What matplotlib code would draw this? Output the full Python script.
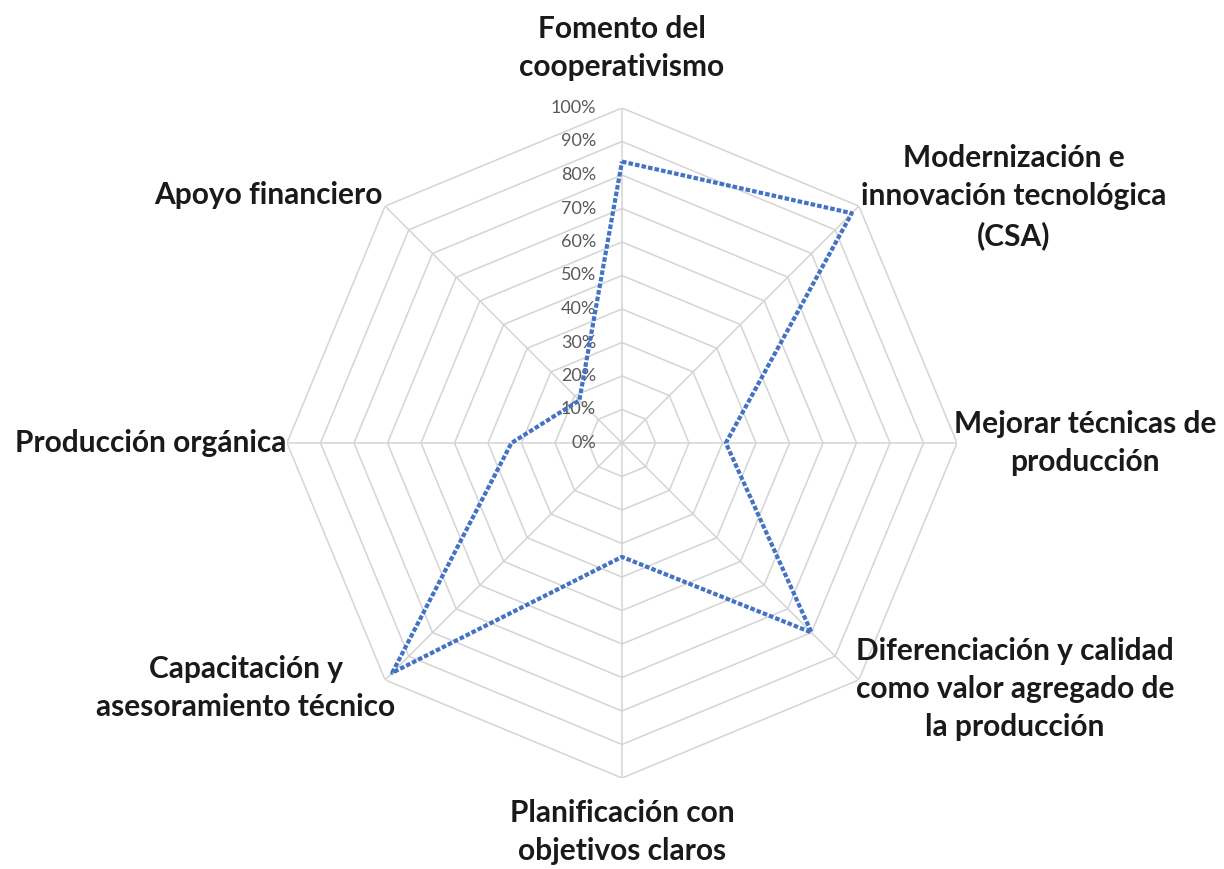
import numpy as np
import matplotlib
matplotlib.use("Agg")
import matplotlib.pyplot as plt
from matplotlib import transforms

categories = [
    "Fomento del\ncooperativismo",
    "Modernización e\ninnovación tecnológica\n(CSA)",
    "Mejorar técnicas de\nproducción",
    "Diferenciación y calidad\ncomo valor agregado de\nla producción",
    "Planificación con\nobjetivos claros",
    "Capacitación y\nasesoramiento técnico",
    "Producción orgánica",
    "Apoyo financiero",
]
values = [0.84, 0.97, 0.31, 0.80, 0.34, 0.97, 0.33, 0.18]
ticks = [0.0, 0.1, 0.2, 0.3, 0.4, 0.5, 0.6, 0.7, 0.8, 0.9, 1.0]
tick_labels = ["0%", "10%", "20%", "30%", "40%", "50%", "60%", "70%", "80%", "90%", "100%"]

# label placement in pixels (center x, center y from top)
label_pos = [
    (622, 48),
    (1014, 197),
    (1085, 443),
    (1015, 689),
    (622, 832),
    (246, 688),
    (151, 443),
    (268, 195),
]

W, H = 1224, 869
fig = plt.figure(figsize=(W / 100, H / 100), dpi=100)
cx, cy, R = 622, 443, 335
ax = fig.add_axes([(cx - R) / W, (H - cy - R) / H, 2 * R / W, 2 * R / H], projection="polar")
ax.set_theta_offset(np.pi / 2)
ax.set_theta_direction(-1)
ax.set_ylim(0, 1)
ax.grid(False)
ax.spines["polar"].set_visible(False)
ax.set_xticks([])
ax.set_yticks([])
ax.patch.set_alpha(0)

n = len(categories)
angles = np.linspace(0, 2 * np.pi, n, endpoint=False)
closed = np.concatenate([angles, angles[:1]])

grid_col = "#d4d4d4"
for r in ticks[1:]:
    ax.plot(closed, [r] * (n + 1), color=grid_col, lw=1.1, zorder=1)
for a in angles:
    ax.plot([a, a], [0, 1], color=grid_col, lw=1.1, zorder=1)

vals = values + values[:1]
ax.plot(closed, vals, color="#4472c4", lw=3.0, linestyle=(0, (1.1, 0.5)), zorder=3)

off = transforms.offset_copy(ax.transData, fig=fig, x=-26, y=0, units="dots")
for t, lab in zip(ticks, tick_labels):
    ax.text(0, t, lab, transform=off, ha="right", va="center",
            fontsize=13, color="#595959", family="Lato", zorder=2)

for lab, (px, py) in zip(categories, label_pos):
    fig.text(px / W, 1 - py / H, lab, ha="center", va="center", multialignment="center",
             fontsize=21.5, fontweight="bold", family="Lato", color="#1a1a1a",
             linespacing=1.45)

fig.savefig("out.png", dpi=100)
